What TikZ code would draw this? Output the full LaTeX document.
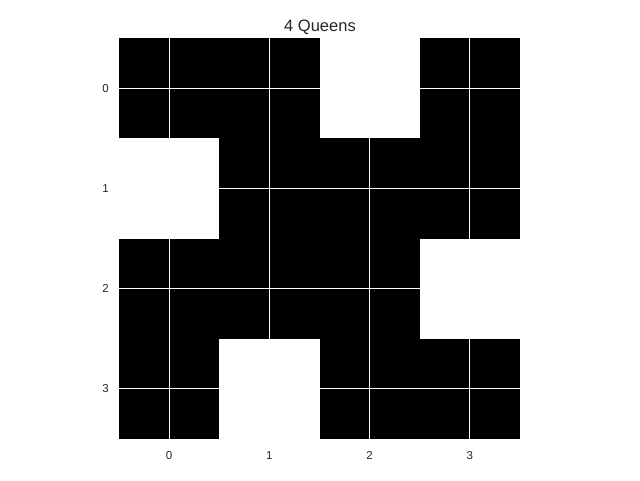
\documentclass[tikz,border=0pt]{standalone}
\usepackage{fontspec}
\setmainfont{Liberation Sans}
\definecolor{txt}{HTML}{262626}
\begin{document}
\begin{tikzpicture}[x=1pt,y=-1pt,
  blackcell/.style={fill=black},
  gridline/.style={white,line width=1pt},
  ticklab/.style={text=txt,font=\fontsize{11.5}{12}\selectfont,inner sep=0pt},
  titlelab/.style={text=txt,font=\fontsize{16.5}{18}\selectfont,inner sep=0pt}]
\useasboundingbox (0,0) rectangle (640,480);
\def\cw{100.25}
% cells: white ones at (r0,c2),(r1,c0),(r2,c3),(r3,c1)
\foreach \r/\c in {0/0,0/1,0/3,1/1,1/2,1/3,2/0,2/1,2/2,3/0,3/2,3/3}{
  \fill[blackcell] ({119+\c*\cw},{38+\r*\cw}) rectangle ({119+(\c+1)*\cw},{38+(\r+1)*\cw});
}
\foreach \i in {0,1,2,3}{
  \draw[gridline] ({169.1+\i*\cw},38) -- ({169.1+\i*\cw},439);
  \draw[gridline] (119,{88.1+\i*\cw}) -- (520,{88.1+\i*\cw});
  \node[ticklab,anchor=east] (y\i) at (109,{88.1+\i*\cw}) {\i};
  \node[ticklab,anchor=north] (x\i) at ({169.1+\i*\cw},451) {\i};
}
\node[titlelab,anchor=base] (title) at (320,31.5) {4 Queens};
\end{tikzpicture}
\end{document}
